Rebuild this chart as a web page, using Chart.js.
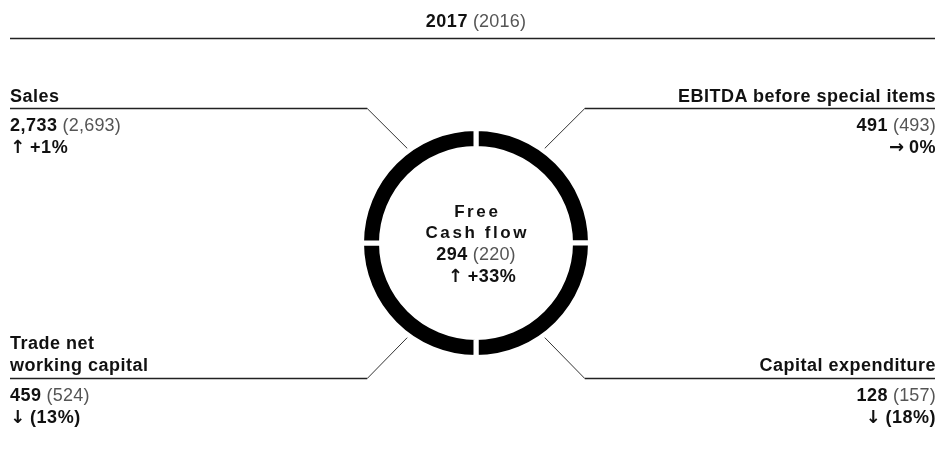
<!DOCTYPE html>
<html>
<head>
<meta charset="utf-8">
<script src="https://cdn.jsdelivr.net/npm/chart.js@4.4.1/dist/chart.umd.min.js"></script>
<style>
  html, body { margin: 0; padding: 0; background: #fff; }
  #wrap { position: relative; width: 940px; height: 453px; overflow: hidden;
          font-family: "Liberation Sans", Arial, sans-serif; color: #111; }
  #wrap canvas { position: absolute; left: 0; top: 0; }
  .t { position: absolute; white-space: pre; font-size: 18px; line-height: 22px; }
  .t b { font-weight: 700; letter-spacing: 0.5px; }
  .t span { color: #555; letter-spacing: 0.2px; }
  .t i { font-style: normal; font-family: "DejaVu Sans", sans-serif; font-weight: 700; font-size: 18px; letter-spacing: 0; }
  .mid { transform: translateX(-50%); text-align: center; }
  .wide { font-size: 17px; }
  .wide b { letter-spacing: 2.6px; margin-right: -2.6px; }
</style>
</head>
<body>
<div id="wrap">
  <canvas id="ring" width="940" height="453"></canvas>
</div>
<script>
// values (EUR m)
const categories = ['Sales', 'EBITDA before special items', 'Trade net\nworking capital', 'Capital expenditure'];
const values2017 = [2733, 491, 459, 128];
const values2016 = [2693, 493, 524, 157];
const changeLabels = ['+1%', '0%', '(13%)', '(18%)'];
const trendArrows = ['↑', '→', '↓', '↓'];
const years = ['2017', '2016'];

const centerTitle = ['Free', 'Cash flow'];
const center2017 = 294;
const center2016 = 220;
const centerChange = '+33%';
const centerArrow = '↑';

// ring is walked clockwise from 12 o'clock: EBITDA, Capex, TNWC, Sales
const ringOrder = [1, 3, 2, 0];
const ringShares = [25, 25, 25, 25];

const fmt = n => n.toLocaleString('en-US');
const wrap = document.getElementById('wrap');

// put a line so that its baseline lands on `baseline`
function place(html, x, baseline, align, extra) {
  const d = document.createElement('div');
  d.className = 't' + (extra ? ' ' + extra : '');
  d.innerHTML = html;
  const fs = extra === 'wide' ? 17 : 18;
  const off = (22 - 1.117 * fs) / 2 + 0.905 * fs;
  d.style.top = (baseline - off) + 'px';
  if (align === 'right') { d.style.right = (940 - x) + 'px'; d.style.textAlign = 'right'; }
  else if (align === 'center') { d.style.left = x + 'px'; d.classList.add('mid'); }
  else d.style.left = x + 'px';
  wrap.appendChild(d);
}

// title
place('<b>' + years[0] + '</b> <span>(' + years[1] + ')</span>', 476, 27, 'center');

// four outer labels: [x, align, heading baseline (last line), value baseline, change baseline]
const slots = [
  [10, 'left', 102, 131, 153],
  [936, 'right', 102, 131, 153],
  [10, 'left', 371, 401, 423],
  [936, 'right', 371, 401, 423]
];
categories.forEach((name, i) => {
  const [x, align, hb, vb, cb] = slots[i];
  const lines = name.split('\n');
  lines.forEach((ln, k) => place('<b>' + ln + '</b>', x, hb - (lines.length - 1 - k) * 22, align));
  place('<b>' + fmt(values2017[i]) + '</b> <span>(' + fmt(values2016[i]) + ')</span>', x, vb, align);
  place('<i>' + trendArrows[i] + '</i> <b>' + changeLabels[i] + '</b>', x, cb, align);
});

// centre
place('<b>' + centerTitle[0] + '</b>', 476, 218, 'center', 'wide');
place('<b>' + centerTitle[1] + '</b>', 476, 238.5, 'center', 'wide');
place('<b>' + center2017 + '</b> <span>(' + center2016 + ')</span>', 476, 260, 'center');
place('<i>' + centerArrow + '</i> <b>' + centerChange + '</b>', 482, 282, 'center');

// leader lines from the ring to each label rule, plus the top rule
const leaders = {
  id: 'leaders',
  afterDatasetsDraw(chart) {
    const arc = chart.getDatasetMeta(0).data[0];
    const { x, y, outerRadius } = arc;
    const ctx = chart.ctx;
    const a = 54 * Math.PI / 180;
    const r = outerRadius + 2.5;
    ctx.save();
    ctx.strokeStyle = '#222';
    ctx.lineWidth = 1.4;
    ctx.beginPath();
    ctx.moveTo(10, 38.5);
    ctx.lineTo(935, 38.5);
    ctx.stroke();
    [[-1, -1], [1, -1], [-1, 1], [1, 1]].forEach(([sx, sy]) => {
      const px = x + sx * r * Math.cos(a);
      const py = y + sy * r * Math.sin(a);
      const kx = px + sx * 40;
      const ky = Math.round(py + sy * 40) + 0.5;
      ctx.strokeStyle = '#333';
      ctx.lineWidth = 1;
      ctx.beginPath();
      ctx.moveTo(px, py);
      ctx.lineTo(kx, ky);
      ctx.stroke();
      ctx.strokeStyle = '#222';
      ctx.lineWidth = 1.3;
      ctx.beginPath();
      ctx.moveTo(kx, ky);
      ctx.lineTo(sx < 0 ? 10 : 935, ky);
      ctx.stroke();
    });
    ctx.restore();
  }
};

new Chart(document.getElementById('ring'), {
  type: 'doughnut',
  data: {
    labels: ringOrder.map(i => categories[i].replace('\n', ' ')),
    datasets: [{
      data: ringShares,
      backgroundColor: '#000',
      borderColor: '#fff',
      borderWidth: 5,
      hoverOffset: 0
    }]
  },
  options: {
    responsive: false,
    animation: false,
    events: [],
    radius: 114.5,
    cutout: (94.5 / 114.5 * 100) + '%',
    layout: { padding: { left: 12, top: 33, right: 0, bottom: 0 } },
    plugins: { legend: { display: false }, tooltip: { enabled: false } }
  },
  plugins: [leaders]
});
</script>
</body>
</html>
